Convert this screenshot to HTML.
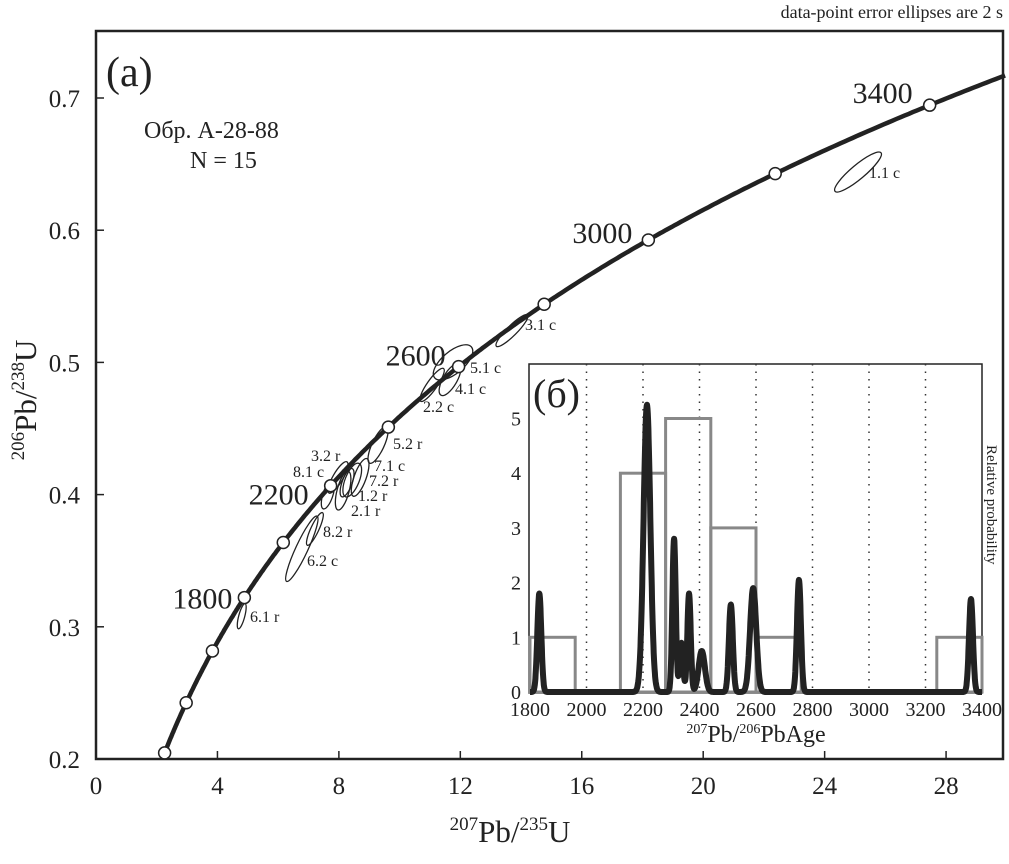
<!DOCTYPE html>
<html><head><meta charset="utf-8"><style>
body{margin:0;background:#fff;}
svg text{font-family:"Liberation Serif","Noto Serif CJK SC",serif;fill:#222;}
</style></head><body>
<svg id="chart" width="1009" height="859" viewBox="0 0 1009 859" xmlns="http://www.w3.org/2000/svg">
<text x="1003" y="18" text-anchor="end" font-size="18">data-point error ellipses are 2 s</text>
<rect x="96" y="31" width="907" height="728" fill="#fff" stroke="#222" stroke-width="2.5"/>
<g id="main"></g>
<text x="106" y="86" font-size="42">(a)</text>
<text x="144" y="138" font-size="24">Обр. А-28-88</text>
<text x="190" y="168" font-size="24">N = 15</text>
<text x="510" y="842" text-anchor="middle" font-size="31"><tspan font-size="19" dy="-12">207</tspan><tspan dy="12">Pb/</tspan><tspan font-size="19" dy="-12">235</tspan><tspan dy="12">U</tspan></text>
<text transform="translate(36,400) rotate(-90)" text-anchor="middle" font-size="31"><tspan font-size="19" dy="-12">206</tspan><tspan dy="12">Pb/</tspan><tspan font-size="19" dy="-12">238</tspan><tspan dy="12">U</tspan></text>
<rect x="529" y="364" width="453" height="329" fill="#fff" stroke="#222" stroke-width="1.5"/>
<g id="inset"></g>
<text x="533" y="407" font-size="40">(б)</text>
<text transform="translate(987,445) rotate(90)" font-size="15">Relative probability</text>
<text x="756" y="742" text-anchor="middle" font-size="24"><tspan font-size="14" dy="-9">207</tspan><tspan dy="9">Pb/</tspan><tspan font-size="14" dy="-9">206</tspan><tspan dy="9">PbAge</tspan></text>
</svg>
<script>
const xTicks=[0,4,8,12,16,20,24,28];
const yTicks=[0.2,0.3,0.4,0.5,0.6,0.7];
const markerAges=[1200,1400,1600,1800,2000,2200,2400,2600,2800,3000,3200,3400];
const ageLabels=[1800,2200,2600,3000,3400];
const ellipseNames=["1.1 c","3.1 c","5.1 c","4.1 c","2.2 c","5.2 r","7.1 c","7.2 r","1.2 r","2.1 r","3.2 r","8.1 c","8.2 r","6.2 c","6.1 r"];
const ellipseX=[25.1,13.7,11.76,11.66,11.07,9.29,8.7,8.44,8.27,8.14,7.97,7.64,7.21,6.78,4.8];
const ellipseY=[0.644,0.524,0.500,0.487,0.483,0.4375,0.413,0.411,0.409,0.403,0.413,0.400,0.374,0.359,0.308];
const inTicksX=[1800,2000,2200,2400,2600,2800,3000,3200,3400];
const inTicksY=[0,1,2,3,4,5];
const binEdges=[1800,1960,2120,2280,2440,2600,2760,2920,3080,3240,3400];
const binCounts=[1,0,4,5,3,1,0,0,0,1];
const peakAges=[1833,2214,2310,2336,2363,2408,2511,2590,2752,3361];
const peakHeights=[1.8,5.25,2.8,0.9,1.8,0.75,1.6,1.9,2.05,1.7];
const peakSigmas=[7,12,6,6,6,11,7,11,7,7];

const NS="http://www.w3.org/2000/svg";
const X=x=>96+x*30.36, Y=y=>759-(y-0.2)*1322;
const IX=a=>530+(a-1800)*0.2825, IY=v=>692-v*54.7;
const L235=9.8485e-10,L238=1.55125e-10;
const cx=t=>Math.exp(L235*t*1e6)-1, cy=t=>Math.exp(L238*t*1e6)-1;
function mk(tag,attrs,parent){const e=document.createElementNS(NS,tag);for(const k in attrs)e.setAttribute(k,attrs[k]);parent.appendChild(e);return e;}
const main=document.getElementById('main'), inset=document.getElementById('inset');
xTicks.forEach(v=>{
 const t=mk('line',{x1:X(v),x2:X(v),y1:759,y2:751,stroke:'#222','stroke-width':1.5},main);
 
 
 const l=mk('text',{x:X(v),y:794,'text-anchor':'middle','font-size':25},main);l.textContent=v;
 
 
});
yTicks.forEach(v=>{
 const t=mk('line',{x1:96,x2:104,y1:Y(v),y2:Y(v),stroke:'#222','stroke-width':1.5},main);
 
 
 const l=mk('text',{x:80,y:Y(v)+9,'text-anchor':'end','font-size':25},main);l.textContent=v.toFixed(1);
 
 
});
const ang=[-40,-45,-40,-60,-55,-65,-70,-68,-70,-75,-60,-72,-65,-65,-75];
const len=[30,22,24,18,20,20,20,18,15,20,18,15,18,36,13];
const wid=[7,5,11,7,5,6,6,7,5,6,5,5,4,6,3];
ellipseNames.forEach((n,i)=>{
 const e=mk('ellipse',{cx:X(ellipseX[i]),cy:Y(ellipseY[i]),rx:len[i],ry:wid[i],fill:'none',stroke:'#222','stroke-width':1.3,transform:`rotate(${ang[i]} ${X(ellipseX[i])} ${Y(ellipseY[i])})`},main);
 
 
});
const lblPos=[[869,178],[525,330],[470,373],[455,394],[423,412],[393,449],[374,471],[369,486],[358,501],[351,516],[311,461],[293,477],[323,537],[307,566],[250,622]];
ellipseNames.forEach((n,i)=>{
 const t=mk('text',{x:lblPos[i][0],y:lblPos[i][1],'font-size':16},main);t.textContent=n;
 
 
});
let d='';
for(let t=1150;t<=3700;t+=5){const x=cx(t),y=cy(t);if(y<0.2||x>30)continue;d+=(d?'L':'M')+X(x).toFixed(1)+','+Y(y).toFixed(1);}
const c=mk('path',{d:d,fill:'none',stroke:'#222','stroke-width':4.5},main);


markerAges.forEach(a=>{
 const m=mk('circle',{cx:X(cx(a)),cy:Y(cy(a)),r:6,fill:'#fff',stroke:'#222','stroke-width':1.5},main);
 
 
});
const ageLblOff=[[-12,11],[-22,19],[-13,-1],[-16,3],[-17,-2]];
ageLabels.forEach((a,i)=>{
 const t=mk('text',{x:X(cx(a))+ageLblOff[i][0],y:Y(cy(a))+ageLblOff[i][1],'text-anchor':'end','font-size':30},main);t.textContent=a;
 
 
});
inTicksX.forEach((a,i)=>{
 if(i>0&&i<inTicksX.length-1){const g=mk('line',{x1:IX(a),x2:IX(a),y1:364,y2:692,stroke:'#333','stroke-width':1.5,'stroke-dasharray':'1.5,6'},inset);
 
 }
 const l=mk('text',{x:IX(a),y:716,'text-anchor':'middle','font-size':20},inset);l.textContent=a;
 
 
});
inTicksY.forEach(v=>{
 const l=mk('text',{x:521,y:IY(v)+7,'text-anchor':'end','font-size':20},inset);l.textContent=v;
 
 
});
binCounts.forEach((n,i)=>{
 if(!n)return;
 const r=mk('rect',{x:IX(binEdges[i]),y:IY(n),width:IX(binEdges[i+1])-IX(binEdges[i]),height:IY(0)-IY(n),fill:'none',stroke:'#888','stroke-width':3},inset);
 
 
});
let pd='';
for(let a=1800;a<=3400;a+=1){let s=0;peakAges.forEach((p,i)=>{s+=peakHeights[i]*Math.exp(-0.5*((a-p)/peakSigmas[i])**2);});pd+=(pd?'L':'M')+IX(a).toFixed(1)+','+IY(s).toFixed(1);}
const pc=mk('path',{d:pd,fill:'none',stroke:'#222','stroke-width':6,'stroke-linejoin':'round'},inset);


</script>
</body></html>
